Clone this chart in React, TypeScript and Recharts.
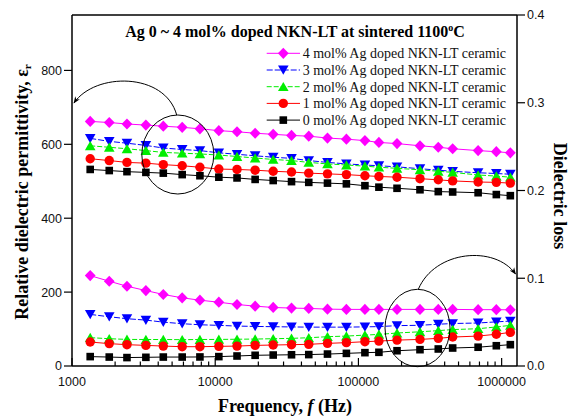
import React from 'react';
import { ComposedChart, Line, XAxis, YAxis, Legend, ReferenceLine } from 'recharts';

// measuring frequency (Hz)
const frequencies = [
  1340, 1820, 2420, 3280, 4340, 5880, 7820, 10600, 14200, 19000, 25400, 34100,
  45000, 60800, 82400, 111000, 139000, 186000, 269000, 361000, 455000, 685000, 918000, 1150000,
];

// relative permittivity (left axis)
const eps4 = [662, 659, 655, 652, 649, 646, 642, 637, 634, 630, 627, 624, 622, 617, 614, 610, 605, 602, 596, 592, 588, 583, 580, 577];
const eps3 = [616, 608, 603, 597, 590, 586, 583, 577, 573, 569, 565, 562, 556, 551, 547, 544, 542, 539, 534, 530, 527, 523, 521, 519];
const eps2 = [596, 592, 588, 583, 578, 576, 574, 571, 567, 563, 559, 556, 551, 547, 544, 541, 538, 535, 531, 527, 524, 517, 514, 511];
const eps1 = [561, 556, 551, 549, 545, 542, 538, 533, 532, 530, 527, 525, 522, 520, 518, 515, 513, 511, 507, 504, 501, 498, 497, 495];
const eps0 = [532, 529, 526, 524, 522, 518, 515, 511, 509, 505, 502, 499, 497, 495, 493, 488, 484, 481, 477, 472, 471, 469, 464, 461];

// dielectric loss (right axis)
const loss4 = [0.103, 0.0966, 0.0909, 0.086, 0.0815, 0.0777, 0.075, 0.0727, 0.0701, 0.0682, 0.0667, 0.066, 0.0656, 0.0648, 0.0645, 0.0645, 0.0645, 0.0645, 0.0645, 0.0645, 0.0645, 0.0642, 0.0642, 0.064];
const loss3 = [0.0588, 0.0561, 0.0539, 0.0523, 0.05, 0.0482, 0.047, 0.0463, 0.0455, 0.0451, 0.0448, 0.0445, 0.0443, 0.0443, 0.0443, 0.0446, 0.0449, 0.046, 0.0464, 0.0476, 0.0484, 0.049, 0.0503, 0.0512];
const loss2 = [0.0323, 0.0311, 0.0303, 0.0302, 0.0302, 0.03, 0.0302, 0.0303, 0.0305, 0.0307, 0.0311, 0.0315, 0.0322, 0.0334, 0.0341, 0.0352, 0.036, 0.0376, 0.039, 0.0403, 0.0415, 0.0425, 0.0445, 0.0463];
const loss1 = [0.0273, 0.0255, 0.0243, 0.0235, 0.0227, 0.022, 0.022, 0.0224, 0.0227, 0.0235, 0.0239, 0.0243, 0.0247, 0.0258, 0.0266, 0.0277, 0.0284, 0.0295, 0.0303, 0.0315, 0.033, 0.0341, 0.0362, 0.0383];
const loss0 = [0.0107, 0.0102, 0.0096, 0.0099, 0.0102, 0.0102, 0.0103, 0.0107, 0.0114, 0.0122, 0.0125, 0.0128, 0.013, 0.0136, 0.0144, 0.0152, 0.0156, 0.0174, 0.0186, 0.0194, 0.0205, 0.0214, 0.0231, 0.0243];

const decadeTicks = [1000, 10000, 100000, 1000000];
const freqTicks = [
  1000, 2000, 3000, 4000, 5000, 6000, 7000, 8000, 9000,
  10000, 20000, 30000, 40000, 50000, 60000, 70000, 80000, 90000,
  100000, 200000, 300000, 400000, 500000, 600000, 700000, 800000, 900000,
  1000000,
];
const epsTicks = [0, 200, 400, 600, 800];
const lossTicks = [0, 0.1, 0.2, 0.3, 0.4];

type Shape = 'diamond' | 'triDown' | 'triUp' | 'circle' | 'square';

const series: { id: string; label: string; color: string; shape: Shape; dash?: string; eps: number[]; loss: number[] }[] = [
  { id: 'ag4', label: '4 mol% Ag doped NKN-LT ceramic', color: '#ff00ff', shape: 'diamond', eps: eps4, loss: loss4 },
  { id: 'ag3', label: '3 mol% Ag doped NKN-LT ceramic', color: '#0000ff', shape: 'triDown', dash: '6 2', eps: eps3, loss: loss3 },
  { id: 'ag2', label: '2 mol% Ag doped NKN-LT ceramic', color: '#00ee00', shape: 'triUp', dash: '5 2', eps: eps2, loss: loss2 },
  { id: 'ag1', label: '1 mol% Ag doped NKN-LT ceramic', color: '#ff0000', shape: 'circle', eps: eps1, loss: loss1 },
  { id: 'ag0', label: '0 mol% Ag doped NKN-LT ceramic', color: '#000000', shape: 'square', eps: eps0, loss: loss0 },
];

const data = frequencies.map((f, i) => {
  const row: Record<string, number> = { f };
  series.forEach((s) => {
    row[`eps_${s.id}`] = s.eps[i];
    row[`loss_${s.id}`] = s.loss[i];
  });
  return row;
});

const serif = '"Liberation Serif", "Times New Roman", serif';
const sans = '"Liberation Sans", Arial, sans-serif';

const Marker = ({ shape, cx, cy, color }: { shape: Shape; cx: number; cy: number; color: string }) => {
  if (cx == null || cy == null) return null;
  switch (shape) {
    case 'diamond':
      return <polygon points={`${cx},${cy - 5.6} ${cx + 5.4},${cy} ${cx},${cy + 5.6} ${cx - 5.4},${cy}`} fill={color} />;
    case 'triDown':
      return <polygon points={`${cx - 5.3},${cy - 4.4} ${cx + 5.3},${cy - 4.4} ${cx},${cy + 4.8}`} fill={color} />;
    case 'triUp':
      return <polygon points={`${cx - 5.3},${cy + 4.4} ${cx + 5.3},${cy + 4.4} ${cx},${cy - 4.8}`} fill={color} />;
    case 'circle':
      return <circle cx={cx} cy={cy} r={4.7} fill={color} />;
    default:
      return <rect x={cx - 3.8} y={cy - 3.8} width={7.6} height={7.6} fill={color} />;
  }
};

const makeDot = (shape: Shape, color: string, id: string) => (p: any) => (
  <g key={`${id}-${p.index}`}>
    <Marker shape={shape} cx={p.cx} cy={p.cy} color={color} />
  </g>
);

const FreqTick = (props: any) => {
  const { x, y, payload } = props;
  const major = decadeTicks.includes(payload.value);
  return (
    <g>
      <line x1={x} x2={x} y1={y} y2={y - (major ? 8 : 4.5)} stroke="#000" strokeWidth={1.2} />
      {major && (
        <text x={x} y={y + 20} textAnchor="middle" fontFamily={sans} fontSize={12.5} fill="#111">
          {payload.value}
        </text>
      )}
    </g>
  );
};

const renderLegend = () => (
  <svg width={260} height={90}>
    {series.map((s, i) => {
      const cy = 9.3 + i * 16.7;
      return (
        <g key={s.id}>
          <line x1={4.7} x2={38} y1={cy} y2={cy} stroke={s.color} strokeWidth={1} strokeDasharray={s.dash} />
          <Marker shape={s.shape} cx={21.3} cy={cy} color={s.color} />
          <text x={40.7} y={cy + 4.8} fontFamily={serif} fontSize={14} fill="#111">
            {s.label}
          </text>
        </g>
      );
    })}
  </svg>
);

const axisStroke = { stroke: '#000', strokeWidth: 1.5 };

export default function App() {
  return (
    <div style={{ position: 'relative', width: 575, height: 420, background: '#fff' }}>
      <style>{'body{margin:0}'}</style>
      <ComposedChart width={575} height={420} data={data} margin={{ top: 15, right: 0, bottom: 0, left: 0 }}>
        <XAxis
          dataKey="f"
          type="number"
          scale="log"
          domain={[1000, 1280000]}
          allowDataOverflow
          ticks={freqTicks}
          interval={0}
          height={54}
          tickSize={0}
          tickMargin={0}
          tickLine={false}
          axisLine={axisStroke}
          tick={<FreqTick />}
        />
        <YAxis
          yAxisId="left"
          domain={[0, 950]}
          allowDataOverflow
          ticks={epsTicks}
          interval={0}
          width={72}
          tickSize={8}
          tickMargin={2}
          axisLine={axisStroke}
          tickLine={{ stroke: '#000', strokeWidth: 1.2 }}
          tick={{ fontFamily: sans, fontSize: 12.5, fill: '#111' }}
        />
        <YAxis
          yAxisId="right"
          orientation="right"
          domain={[0, 0.4]}
          allowDataOverflow
          ticks={lossTicks}
          interval={0}
          width={58}
          tickSize={8}
          tickMargin={2}
          tickFormatter={(v: number) => v.toFixed(1)}
          axisLine={axisStroke}
          tickLine={{ stroke: '#000', strokeWidth: 1.2 }}
          tick={{ fontFamily: sans, fontSize: 12.5, fill: '#111' }}
        />
        <ReferenceLine yAxisId="left" y={950} stroke="#000" strokeWidth={1.5} />
        {series.map((s) => (
          <Line
            key={`eps_${s.id}`}
            yAxisId="left"
            dataKey={`eps_${s.id}`}
            name={s.label}
            stroke={s.color}
            strokeWidth={1}
            strokeDasharray={s.dash}
            dot={makeDot(s.shape, s.color, `eps_${s.id}`)}
            activeDot={false}
            isAnimationActive={false}
          />
        ))}
        {series.map((s) => (
          <Line
            key={`loss_${s.id}`}
            yAxisId="right"
            dataKey={`loss_${s.id}`}
            legendType="none"
            stroke={s.color}
            strokeWidth={1}
            strokeDasharray={s.dash}
            dot={makeDot(s.shape, s.color, `loss_${s.id}`)}
            activeDot={false}
            isAnimationActive={false}
          />
        ))}
        <Legend
          layout="horizontal"
          verticalAlign="middle"
          align="center"
          content={renderLegend}
          wrapperStyle={{ position: 'absolute', left: 262, top: 44, width: 260, height: 90 }}
        />
      </ComposedChart>

      <svg width={575} height={420} style={{ position: 'absolute', left: 0, top: 0, pointerEvents: 'none' }}>
        <defs>
          <marker id="head" viewBox="0 0 10 10" refX="9" refY="5" markerWidth="7" markerHeight="7" orient="auto">
            <path d="M0,1 L10,5 L0,9 L3,5 Z" fill="#000" />
          </marker>
        </defs>
        {/* title */}
        <text x={295} y={37} textAnchor="middle" fontFamily={serif} fontWeight="bold" fontSize={16} fill="#000">
          Ag 0 ~ 4 mol% doped NKN-LT at sintered 1100
          <tspan fontSize={10} dy={-6}>o</tspan>
          <tspan dy={6}>C</tspan>
        </text>
        {/* annotations */}
        <ellipse cx={177.8} cy={154.5} rx={36} ry={39.5} fill="none" stroke="#000" strokeWidth={1} />
        <path d="M176.7,115 C165,72 95,72 74,103" fill="none" stroke="#000" strokeWidth={1} markerEnd="url(#head)" />
        <ellipse cx={417.5} cy={328} rx={32.5} ry={38.7} fill="none" stroke="#000" strokeWidth={1} />
        <path d="M418.3,289.3 C435,250 495,245 515.5,274" fill="none" stroke="#000" strokeWidth={1} markerEnd="url(#head)" />
        {/* axis titles */}
        <text transform="translate(22,192) rotate(-90)" textAnchor="middle" dominantBaseline="central" fontFamily={serif} fontWeight="bold" fontSize={18} fill="#000">
          Relative dielectric permittivity, ε
          <tspan fontSize={11} dy={5}>r</tspan>
        </text>
        <text transform="translate(560,196) rotate(90)" textAnchor="middle" dominantBaseline="central" fontFamily={serif} fontWeight="bold" fontSize={18} fill="#000">
          Dielectric loss
        </text>
        <text x={285} y={412} textAnchor="middle" fontFamily={serif} fontWeight="bold" fontSize={18} fill="#000">
          Frequency, <tspan fontStyle="italic">f</tspan> (Hz)
        </text>
      </svg>
    </div>
  );
}
